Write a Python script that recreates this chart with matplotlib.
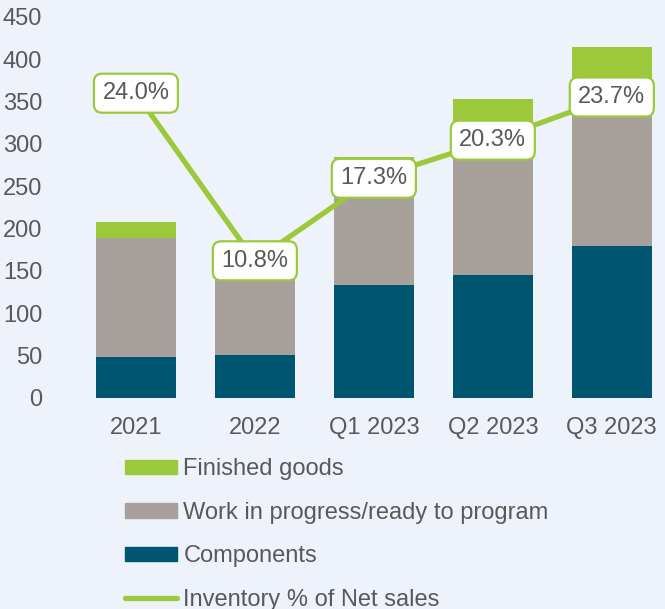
import matplotlib
matplotlib.use("Agg")
import matplotlib.pyplot as plt
import numpy as np
from matplotlib.lines import Line2D
from matplotlib.patches import Patch

# ---------------------------------------------------------------------------
# Data
# ---------------------------------------------------------------------------

PERIODS = ["2021", "2022", "Q1 2023", "Q2 2023", "Q3 2023"]
COMPONENTS = [48, 51, 133, 145, 180]
WIP = [141, 89, 120, 160, 170]
FINISHED = [19, 6, 32, 48, 65]
INVENTORY_PCT = [24.0, 10.8, 17.3, 20.3, 23.7]

BG = "#EEF3FB"
C_COMP = "#005570"
C_WIP = "#A8A09B"
C_FIN = "#9BC93B"
TEXT = "#595959"
FS = 17

plt.rcParams["font.family"] = ["Liberation Sans", "DejaVu Sans"]

fig = plt.figure(figsize=(6.65, 6.09), dpi=100, facecolor=BG)
ax = fig.add_axes([0.097, 0.3465, 0.891, 0.6256])
ax.set_facecolor(BG)

x = np.arange(len(PERIODS))
w = 0.67
comp = np.array(COMPONENTS)
wip = np.array(WIP)
fin = np.array(FINISHED)

ax.bar(x, comp, w, color=C_COMP, zorder=2)
ax.bar(x, wip, w, bottom=comp, color=C_WIP, zorder=2)
ax.bar(x, fin, w, bottom=comp + wip, color=C_FIN, zorder=2)

ax.set_ylim(0, 450)
ax.set_yticks(range(0, 451, 50))
ax.set_xlim(-0.6, 4.38)
ax.set_xticks(x)
ax.set_xticklabels(PERIODS)
ax.tick_params(axis="both", length=0, labelsize=FS, labelcolor=TEXT)
ax.tick_params(axis="x", pad=14)
ax.tick_params(axis="y", pad=16)
for s in ax.spines.values():
    s.set_visible(False)

# secondary (hidden) axis for the percentage line
ax2 = ax.twinx()
ax2.set_ylim(0, 30)
ax2.set_axis_off()
ax2.plot(x, INVENTORY_PCT, color=C_FIN, lw=3.8, zorder=3, solid_capstyle="round")
for xi, p in zip(x, INVENTORY_PCT):
    ax2.text(xi, p, f"{p:.1f}%", ha="center", va="center", fontsize=FS,
             color=TEXT, zorder=4,
             bbox=dict(boxstyle="round,pad=0.36,rounding_size=0.35",
                       fc="white", ec=C_FIN, lw=1.6))

handles = [
    Patch(color=C_FIN, label="Finished goods"),
    Patch(color=C_WIP, label="Work in progress/ready to program"),
    Patch(color=C_COMP, label="Components"),
    Line2D([], [], color=C_FIN, lw=3.8, solid_capstyle="round",
           label="Inventory % of Net sales"),
]
leg = fig.legend(handles=handles, loc="upper left",
                 bbox_to_anchor=(0.188, 0.2475), frameon=False, fontsize=FS,
                 handlelength=2.2, handleheight=0.55, handletextpad=0.27,
                 labelspacing=0.915, borderaxespad=0, borderpad=0)
for t in leg.get_texts():
    t.set_color(TEXT)

fig.savefig("out.png", dpi=100, facecolor=BG)
